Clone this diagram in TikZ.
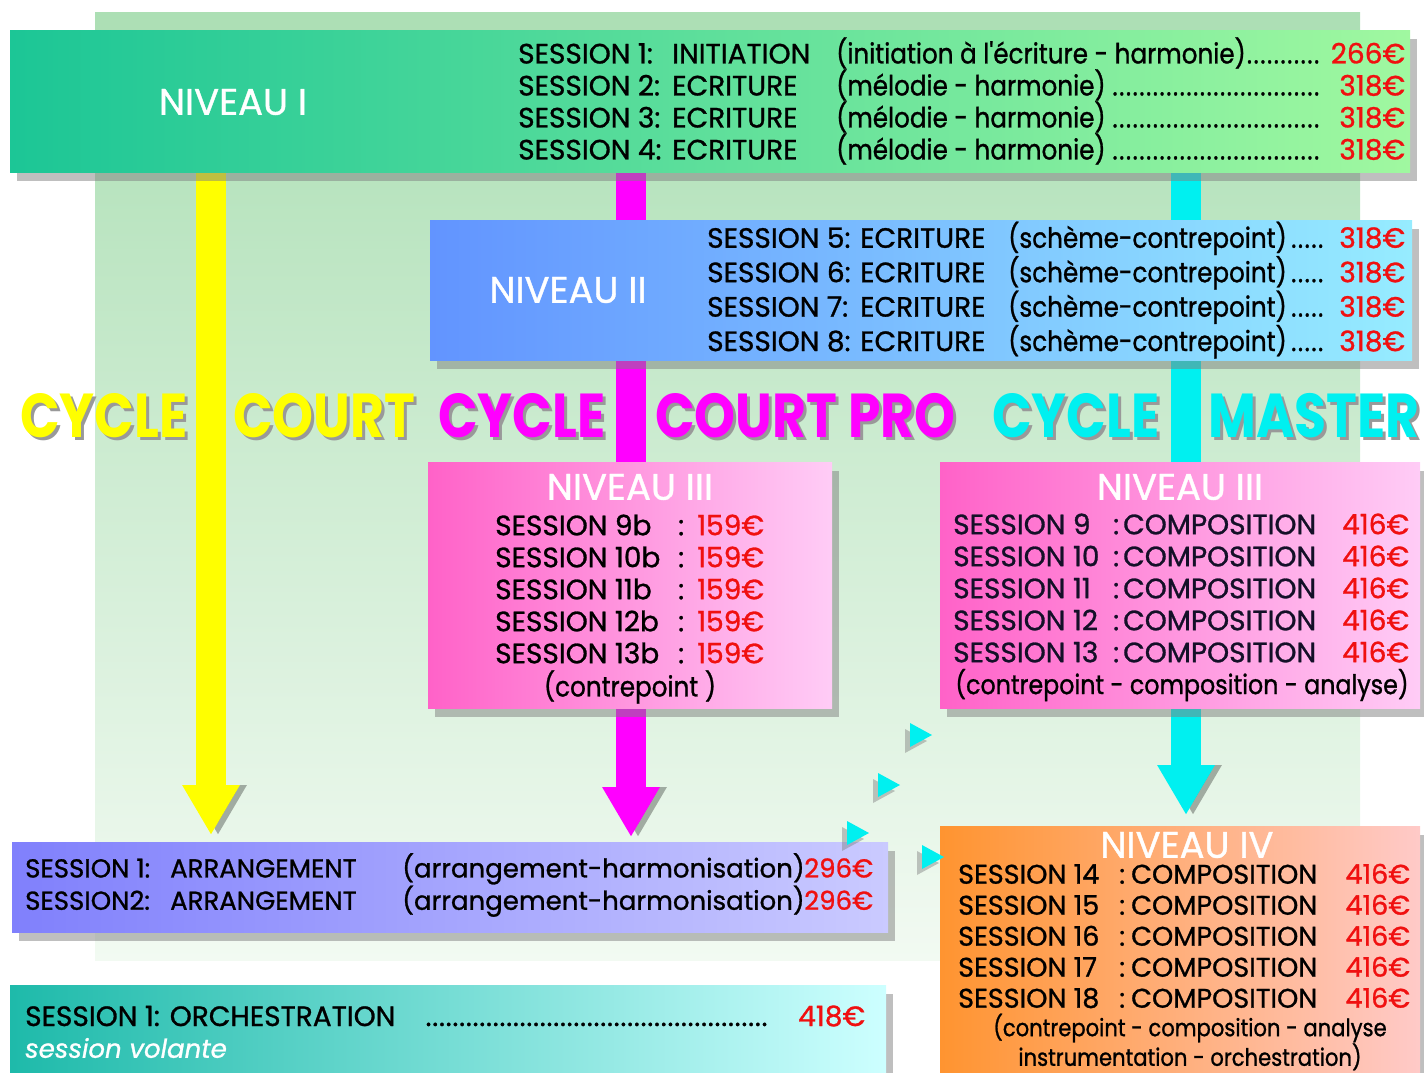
\documentclass[tikz,border=0pt]{standalone}
\usepackage{fontspec}
\setmainfont[FakeBold=1]{Poppins}
\newfontfamily\bigfont[FakeStretch=0.84]{Poppins}
\newfontfamily\nar[FakeStretch=0.88,FakeBold=1]{Poppins}
\usetikzlibrary{positioning,arrows.meta,shadows}

\definecolor{bgtop}{RGB}{172,223,180}
\definecolor{bgbot}{RGB}{242,250,242}
\definecolor{lvlAl}{RGB}{28,198,150}
\definecolor{lvlAr}{RGB}{160,248,160}
\definecolor{lvlBl}{RGB}{98,148,255}
\definecolor{lvlBr}{RGB}{150,236,255}
\definecolor{lvlCl}{RGB}{255,98,200}
\definecolor{lvlCr}{RGB}{255,204,246}
\definecolor{arrl}{RGB}{128,128,252}
\definecolor{arrr}{RGB}{202,202,255}
\definecolor{orchl}{RGB}{30,186,170}
\definecolor{orchr}{RGB}{205,255,255}
\definecolor{lvlDl}{RGB}{255,148,48}
\definecolor{lvlDr}{RGB}{255,202,200}
\definecolor{price}{RGB}{240,16,16}
\definecolor{ylw}{RGB}{255,255,0}
\definecolor{mgt}{RGB}{255,0,255}
\definecolor{cyn}{RGB}{0,240,240}
\definecolor{ink}{RGB}{20,16,40}

\pgfdeclarelayer{back}
\pgfdeclarelayer{flows}
\pgfsetlayers{back,flows,main}

\newcommand\pr[1]{\textcolor{price}{#1}}
\newcommand\dotline{\leaders\hbox to 0.24em{\hss.\hss}\hfill}
\newcommand\shtxt[2]{\makebox[0pt][l]{\kern3pt\raisebox{-3pt}{\textcolor{black!40}{#2}}}\textcolor{#1}{#2}}
\newcommand\rowI[4]{\makebox[154pt][l]{#1}\makebox[164pt][l]{#2}\makebox[490pt][l]{\nar#3\dotline}\makebox[79pt][r]{\pr{#4}}}
\newcommand\rowII[4]{\makebox[153pt][l]{#1}\makebox[148pt][l]{#2}\makebox[318pt][l]{\nar#3\dotline}\makebox[79pt][r]{\pr{#4}}}
\newcommand\rowIII[2]{\makebox[183pt][l]{#1}\makebox[19pt][l]{:}\pr{#2}}
\newcommand\rowcomp[2]{\makebox[160pt][l]{#1}\makebox[10pt][l]{:}\makebox[204pt][l]{COMPOSITION}\makebox[82pt][r]{\pr{#2}}}
\newcommand\rowIV[2]{\makebox[155pt][l]{#1}\makebox[18pt][c]{:}\makebox[199pt][l]{COMPOSITION}\makebox[80pt][r]{\pr{#2}}}
\newcommand\rowarr[4]{\makebox[145pt][l]{#1}\makebox[232pt][l]{#2}\makebox[395pt][l]{#3}\makebox[76pt][r]{\pr{#4}}}

\begin{document}
\begin{tikzpicture}[x=1pt, y=-1pt,
  box/.style={anchor=north west, inner sep=0pt, drop shadow={shadow xshift=7pt,shadow yshift=-9pt,opacity=.5}},
  title/.style={text=white, inner sep=0pt, font=\fontsize{37}{37}\selectfont},
  rows/.style={anchor=west, inner sep=0pt, align=left, font=\fontsize{28}{32}\selectfont},
  note/.style={inner sep=0pt, align=center, font=\nar\fontsize{28}{28}\selectfont},
  cyc/.style={anchor=base west, inner sep=0pt, font=\bigfont\bfseries\fontsize{62}{62}\selectfont},
  flow/.style={line width=30pt, -{Triangle[length=50pt,width=54pt]}, preaction={draw=black,opacity=.3,transform canvas={xshift=7pt}}},
  tick/.style={fill=cyn, drop shadow={shadow xshift=-5pt,shadow yshift=-6pt,opacity=.45}}]

\useasboundingbox (0,0) rectangle (1424,1072);
\clip (0,0) rectangle (1424,1072);

\begin{pgfonlayer}{back}
\fill[top color=bgtop, bottom color=bgbot] (95,12) rectangle (1360,960);
\end{pgfonlayer}

% levels
\node[box, minimum width=1400pt, minimum height=142pt, left color=lvlAl, right color=lvlAr] (n1) at (10,30) {};
\node[box, minimum width=982pt, minimum height=140pt, left color=lvlBl, right color=lvlBr] (n2) at (430,220) {};
\node[box, minimum width=404pt, minimum height=246pt, left color=lvlCl, right color=lvlCr] (n3) at (428,462) {};
\node[box, minimum width=480pt, minimum height=246pt, left color=lvlCl, right color=lvlCr] (n4) at (940,462) {};
\node[box, minimum width=876pt, minimum height=90pt, left color=arrl, right color=arrr] (n5) at (12,842) {};
\node[box, minimum width=876pt, minimum height=100pt, left color=orchl, right color=orchr] (n6) at (10,985) {};
\node[box, minimum width=480pt, minimum height=260pt, left color=lvlDl, right color=lvlDr] (n7) at (940,826) {};

\node[title] (t1) at (233,102) {NIVEAU I};
\node[title] (t2) at (568,290) {NIVEAU II};
\node[title] (t3) at (630,487) {NIVEAU III};
\node[title] (t4) at (1180,487) {NIVEAU III};
\node[title] (t7) at (1187,845) {NIVEAU IV};

\node[rows] (r1) at (518,101) {%
  \rowI{SESSION 1:}{INITIATION}{(initiation à l'écriture - harmonie)}{266€}\\
  \rowI{SESSION 2:}{ECRITURE}{(mélodie - harmonie)}{318€}\\
  \rowI{SESSION 3:}{ECRITURE}{(mélodie - harmonie)}{318€}\\
  \rowI{SESSION 4:}{ECRITURE}{(mélodie - harmonie)}{318€}};
\node[rows] (r2) at (707,290) {%
  \rowII{SESSION 5:}{ECRITURE}{(schème-contrepoint)}{318€}\\
  \rowII{SESSION 6:}{ECRITURE}{(schème-contrepoint)}{318€}\\
  \rowII{SESSION 7:}{ECRITURE}{(schème-contrepoint)}{318€}\\
  \rowII{SESSION 8:}{ECRITURE}{(schème-contrepoint)}{318€}};
\node[rows] (r3) at (495,589) {%
  \rowIII{SESSION 9b}{159€}\\
  \rowIII{SESSION 10b}{159€}\\
  \rowIII{SESSION 11b}{159€}\\
  \rowIII{SESSION 12b}{159€}\\
  \rowIII{SESSION 13b}{159€}};
\node[note] (c3) at (630,687) {(contrepoint )};
\node[rows, text=ink] (r4) at (953,588) {%
  \rowcomp{SESSION 9}{416€}\\
  \rowcomp{SESSION 10}{416€}\\
  \rowcomp{SESSION 11}{416€}\\
  \rowcomp{SESSION 12}{416€}\\
  \rowcomp{SESSION 13}{416€}};
\node[note, font=\nar\fontsize{27}{28}\selectfont] (c4) at (1182,685) {(contrepoint - composition - analyse)};
\node[rows, font=\fontsize{26}{29}\selectfont] (r5) at (25,885) {%
  \rowarr{SESSION 1:}{ARRANGEMENT}{(arrangement-harmonisation)}{296€}\\
  \rowarr{SESSION2:}{ARRANGEMENT}{(arrangement-harmonisation)}{296€}};
\node[rows] (r6) at (25,1016) {\makebox[400pt][l]{SESSION 1: ORCHESTRATION}\makebox[348pt][l]{\dotline}\makebox[92pt][r]{\pr{418€}}};
\node[rows, text=white, font=\itshape\fontsize{26}{26}\selectfont] (v6) at (25,1048) {session volante};
\node[rows, font=\fontsize{27}{31}\selectfont] (r7) at (958,936) {%
  \rowIV{SESSION 14}{416€}\\
  \rowIV{SESSION 15}{416€}\\
  \rowIV{SESSION 16}{416€}\\
  \rowIV{SESSION 17}{416€}\\
  \rowIV{SESSION 18}{416€}};
\node[note, font=\nar\fontsize{24}{27}\selectfont] (c7) at (1190,1042) {(contrepoint - composition - analyse\\instrumentation - orchestration)};

% cycles
\node[cyc] (w1) at (20,437) {\shtxt{ylw}{CYCLE}};
\node[cyc] (w2) at (233,437) {\shtxt{ylw}{COURT}};
\node[cyc] (w3) at (438,437) {\shtxt{mgt}{CYCLE}};
\node[cyc] (w4) at (655,437) {\shtxt{mgt}{COURT PRO}};
\node[cyc] (w5) at (992,437) {\shtxt{cyn}{CYCLE}};
\node[cyc] (w6) at (1208,437) {\shtxt{cyn}{MASTER}};

\coordinate (ya) at (211,0);
\coordinate (ma) at (631,0);
\coordinate (ca) at (1186,0);
\begin{pgfonlayer}{flows}
\draw[flow, ylw] (n1.south -| ya) -- ([yshift=7pt]n5.north -| ya);
\draw[flow, mgt] (n1.south -| ma) -- ([yshift=5pt]n5.north -| ma);
\draw[flow, cyn] (n1.south -| ca) -- ([yshift=11pt]n7.north -| ca);
\end{pgfonlayer}

\foreach \tx/\ty in {920/735, 888/785, 857/833, 932/857}
  \fill[tick] (\tx-10,\ty-12) -- (\tx+12,\ty) -- (\tx-10,\ty+12) -- cycle;
\end{tikzpicture}
\end{document}
